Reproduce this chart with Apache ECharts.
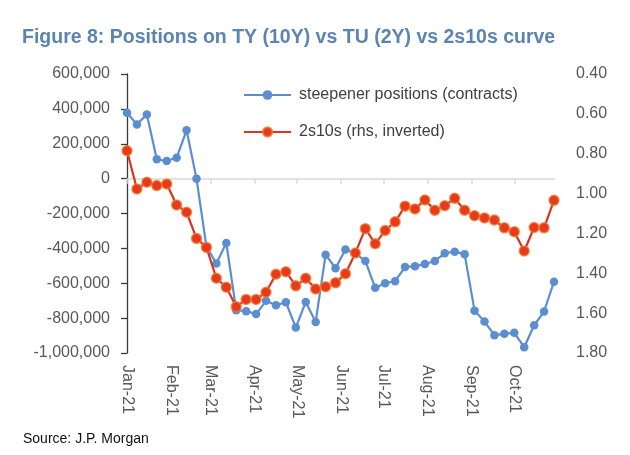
<!DOCTYPE html>
<html>
<head>
<meta charset="utf-8">
<script src="https://cdn.jsdelivr.net/npm/echarts@6/dist/echarts.min.js"></script>
<style>
html,body{margin:0;padding:0;background:#fff;}
#c{width:630px;height:455px;}
</style>
</head>
<body>
<div id="c"></div>
<script>
// Weekly observation dates
var dates = [
"2021-01-05","2021-01-12","2021-01-19","2021-01-26","2021-02-02","2021-02-09","2021-02-16","2021-02-23",
"2021-03-02","2021-03-09","2021-03-16","2021-03-23","2021-03-30","2021-04-06","2021-04-13","2021-04-20",
"2021-04-27","2021-05-04","2021-05-11","2021-05-18","2021-05-25","2021-06-01","2021-06-08","2021-06-15",
"2021-06-22","2021-06-29","2021-07-06","2021-07-13","2021-07-20","2021-07-27","2021-08-03","2021-08-10",
"2021-08-17","2021-08-24","2021-08-31","2021-09-07","2021-09-14","2021-09-21","2021-09-28","2021-10-05",
"2021-10-12","2021-10-19","2021-10-26","2021-11-02"];

// Steepener positions (contracts), left axis
var steepener = [
378000,311000,368000,111000,101000,120000,277000,0,
-390000,-487000,-369000,-755000,-760000,-777000,-701000,-726000,
-709000,-854000,-707000,-822000,-436000,-514000,-407000,-430000,
-472000,-626000,-600000,-588000,-507000,-502000,-490000,-472000,
-428000,-419000,-433000,-757000,-820000,-898000,-890000,-884000,
-967000,-841000,-762000,-591000];

// 2s10s curve (rhs, inverted)
var curve2s10s = [
0.785,0.977,0.943,0.960,0.952,1.057,1.094,1.225,
1.270,1.425,1.470,1.568,1.531,1.531,1.495,1.405,
1.392,1.463,1.425,1.479,1.467,1.448,1.402,1.298,
1.176,1.252,1.185,1.142,1.063,1.077,1.032,1.084,
1.061,1.024,1.084,1.111,1.122,1.133,1.172,1.191,
1.288,1.170,1.172,1.034];

var leftTicks = {min:-1000000, max:600000, interval:200000};
var rightTicks = {min:0.4, max:1.8, interval:0.2};
var monthNames = ["Jan","Feb","Mar","Apr","May","Jun","Jul","Aug","Sep","Oct","Nov","Dec"];

// daily category axis from first to last observation
function pad(n){return (n<10?'0':'')+n;}
var startT = Date.UTC(2021,0,5), endT = Date.UTC(2021,10,2);
var days = [];
for (var t = startT; t <= endT; t += 86400000) {
  var d = new Date(t);
  days.push(d.getUTCFullYear()+'-'+pad(d.getUTCMonth()+1)+'-'+pad(d.getUTCDate()));
}
function idxOf(s){ return days.indexOf(s); }
var steepData = dates.map(function(s,i){ return [idxOf(s), steepener[i]]; });
var curveData = dates.map(function(s,i){ return [idxOf(s), curve2s10s[i]]; });
function isLabelDay(index, value){ return value.slice(8) === '05'; }
function fmtMonth(value){
  var m = parseInt(value.slice(5,7),10)-1;
  return monthNames[m] + '-' + value.slice(2,4);
}

var chart = echarts.init(document.getElementById('c'), null, {renderer:'canvas'});
var txt = '#595959';
var font = "'Liberation Sans', Arial, sans-serif";
chart.setOption({
  animation:false,
  backgroundColor:'#fff',
  title:[{
    text:'Figure 8: Positions on TY (10Y) vs TU (2Y) vs 2s10s curve',
    left:17, top:23,
    textStyle:{fontFamily:"'Liberation Sans Narrow','Arial Narrow','Liberation Sans',sans-serif", fontWeight:'bold', fontSize:19.5, color:'#5B84B3'}
  },{
    text:'Source: J.P. Morgan',
    left:18, top:427,
    textStyle:{fontFamily:font, fontWeight:'normal', fontSize:14, color:'#111'}
  }],
  legend:{
    orient:'vertical',
    left:238, top:82,
    itemWidth:47, itemHeight:12, itemGap:21,
    textStyle:{fontFamily:font, fontSize:16, color:'#404040', padding:[0,0,0,3]},
    data:['steepener positions (contracts)','2s10s (rhs, inverted)']
  },
  grid:{left:127, right:76, top:74, bottom:102, containLabel:false},
  xAxis:[{
    type:'category', data:days, boundaryGap:false, position:'bottom',
    axisLine:{onZero:true, lineStyle:{color:'#D9D9D9', width:1.5}},
    axisTick:{show:true, interval:isLabelDay, length:5, lineStyle:{color:'#D9D9D9', width:1.5}},
    axisLabel:{show:false},
    splitLine:{show:false}
  },{
    type:'category', data:days, boundaryGap:false, position:'bottom',
    axisLine:{show:false, onZero:false},
    axisTick:{show:false},
    axisLabel:{show:true, interval:isLabelDay, rotate:-90, margin:12, formatter:fmtMonth,
      fontFamily:font, fontSize:16, color:txt},
    splitLine:{show:false}
  }],
  yAxis:[{
    type:'value', position:'left',
    min:leftTicks.min, max:leftTicks.max, interval:leftTicks.interval,
    axisLine:{show:true, lineStyle:{color:'#3A3A3A', width:1.3}},
    axisTick:{show:true, length:6, lineStyle:{color:'#3A3A3A', width:1.3}},
    axisLabel:{margin:17, fontFamily:font, fontSize:16, color:txt,
      formatter:function(v){ return v.toLocaleString('en-US'); }},
    splitLine:{show:false}
  },{
    type:'value', position:'right', inverse:true,
    min:rightTicks.min, max:rightTicks.max, interval:rightTicks.interval,
    axisLine:{show:false}, axisTick:{show:false},
    axisLabel:{margin:22, fontFamily:font, fontSize:16, color:txt,
      formatter:function(v){ return v.toFixed(2); }},
    splitLine:{show:false}
  }],
  series:[{
    name:'steepener positions (contracts)', type:'line',
    xAxisIndex:0, yAxisIndex:0, data:steepData,
    symbol:'circle', symbolSize:8.5, showSymbol:true, showAllSymbol:true,
    itemStyle:{color:'#5B8ED0', borderWidth:0},
    lineStyle:{color:'#5B8ED0', width:2.2},
    z:2
  },{
    name:'2s10s (rhs, inverted)', type:'line',
    xAxisIndex:0, yAxisIndex:1, data:curveData,
    symbol:'circle', symbolSize:10, showSymbol:true, showAllSymbol:true,
    itemStyle:{color:'#E63A1A', borderColor:'rgba(240,125,55,0.75)', borderWidth:1.5},
    lineStyle:{color:'#D8351C', width:2.2},
    z:3
  }]
});
</script>
</body>
</html>
